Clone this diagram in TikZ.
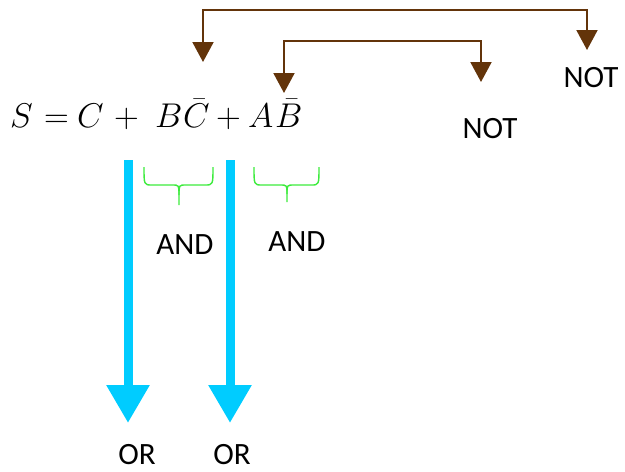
\documentclass[tikz,border=0pt]{standalone}
\usepackage{fontspec}
\setsansfont{Carlito}
\usetikzlibrary{arrows.meta}
\definecolor{notbrown}{RGB}{99,52,10}
\definecolor{orcyan}{RGB}{0,204,255}
\definecolor{andgreen}{RGB}{60,235,60}
\newcommand{\eqsym}[1]{\scalebox{1.38}{\Huge$#1$}}
\tikzset{
  gatelabel/.style={font=\sffamily\fontsize{31}{31}\selectfont, inner sep=0pt, anchor=center},
  eqpart/.style={inner sep=0pt, anchor=base west},
  notarrow/.style={draw=notbrown, line width=2pt, {Triangle[width=21pt,length=20pt]}-{Triangle[width=21pt,length=20pt]}},
  orarrow/.style={draw=orcyan, line width=9pt, -{Triangle[width=41pt,length=38pt]}},
  andbrace/.style={draw=andgreen, line width=1.4pt}
}
\begin{document}
\begin{tikzpicture}[x=1pt,y=-1pt]
  \useasboundingbox (0,0) rectangle (625,472);

  % Boolean expression, one symbol at a time
  \node[eqpart] (eS)  at (10,127)  {\eqsym{S}};
  \node[eqpart] (eEq) at (44,127)  {\eqsym{=}};
  \node[eqpart] (eC)  at (77,127)  {\eqsym{C}};
  \node[eqpart] (eP1) at (114,127) {\eqsym{+}};
  \node[eqpart] (eB)  at (155,127) {\eqsym{B}};
  \node[eqpart] (eCb) at (183,127) {\eqsym{\bar{C}}};
  \node[eqpart] (eP2) at (216,127) {\eqsym{+}};
  \node[eqpart] (eA)  at (248,127) {\eqsym{A}};
  \node[eqpart] (eBb) at (275,127) {\eqsym{\bar{B}}};

  % NOT feedback lines
  \coordinate (c1) at (203,62);
  \coordinate (n1) at (587,50);
  \coordinate (c2) at (284,93);
  \coordinate (n2) at (481,82);
  \draw[notarrow] (c1) -- (203,10) -| (n1);
  \draw[notarrow] (c2) -- (284,41) -| (n2);
  \node[gatelabel] (not1) at (591,78) {NOT};
  \node[gatelabel] (not2) at (490,129) {NOT};

  % OR arrows
  \coordinate (o1s) at (128,160);
  \coordinate (o1e) at (128,423);
  \coordinate (o2s) at (230,160);
  \coordinate (o2e) at (230,423);
  \draw[orarrow] (o1s) -- (o1e);
  \draw[orarrow] (o2s) -- (o2e);
  \node[gatelabel] (or1) at (137,455) {OR};
  \node[gatelabel] (or2) at (232,455) {OR};

  % AND braces
  \draw[andbrace] (144,167) .. controls (144,185) .. (152,185) -- (172,185)
    .. controls (179,185) .. (179,195) -- (179,205);
  \draw[andbrace] (213,167) .. controls (213,185) .. (205,185) -- (186,185)
    .. controls (179,185) .. (179,195);
  \draw[andbrace] (254,167) .. controls (254,185) .. (262,185) -- (280,185)
    .. controls (287,185) .. (287,194) -- (287,202);
  \draw[andbrace] (319,167) .. controls (319,185) .. (311,185) -- (294,185)
    .. controls (287,185) .. (287,194);
  \node[gatelabel] (and1) at (185,245) {AND};
  \node[gatelabel] (and2) at (297,242) {AND};
\end{tikzpicture}
\end{document}
